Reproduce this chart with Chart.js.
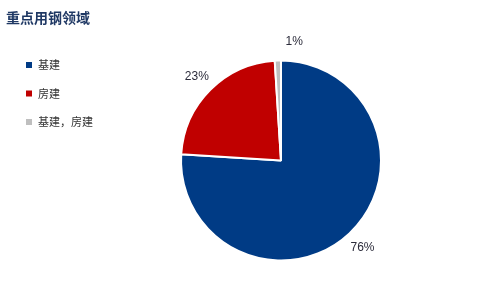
<!DOCTYPE html>
<html lang="zh-CN">
<head>
<meta charset="UTF-8">
<title>重点用钢领域</title>
<script src="https://cdn.jsdelivr.net/npm/chart.js"></script>
<style>
  html, body { margin: 0; padding: 0; background: #fff; }
  #wrap { width: 480px; height: 291px; position: relative; }
</style>
</head>
<body>
<div id="wrap"><canvas id="grafico"></canvas></div>
<script>
const titulo = '重点用钢领域';
const categorias = ['基建', '房建', '基建，房建'];
const valores = [76, 23, 1];
const cores = ['#003B85', '#C00000', '#BFBFBF'];

// desenha titulo, legenda e rotulos de porcentagem
const extras = {
  id: 'extras',
  afterDraw(chart) {
    const ctx = chart.ctx;
    ctx.save();
    ctx.fillStyle = '#1F3864';
    ctx.font = 'bold 14px "Noto Sans CJK SC"';
    ctx.textBaseline = 'middle';
    ctx.textAlign = 'left';
    ctx.fillText(titulo, 6, 18);

    ctx.font = '11px "Noto Sans CJK SC"';
    categorias.forEach((c, i) => {
      const y = 65 + i * 28.5;
      ctx.fillStyle = cores[i];
      ctx.fillRect(26, y - 3, 6, 6);
      ctx.fillStyle = '#333';
      ctx.fillText(c, 38, y);
    });

    const meta = chart.getDatasetMeta(0);
    const total = valores.reduce((a, b) => a + b, 0);
    const ajusteX = [0, 0, 17];
    ctx.font = '12px "Liberation Sans"';
    ctx.textAlign = 'center';
    meta.data.forEach((arc, i) => {
      const p = arc.getProps(['x', 'y', 'startAngle', 'endAngle', 'outerRadius'], true);
      const meio = (p.startAngle + p.endAngle) / 2;
      const r = p.outerRadius + 19;
      const x = p.x + Math.cos(meio) * r + ajusteX[i];
      const y = p.y + Math.sin(meio) * r;
      ctx.fillStyle = '#2b2b3a';
      ctx.fillText(Math.round(valores[i] / total * 100) + '%', x, y);
    });
    ctx.restore();
  }
};

new Chart(document.getElementById('grafico'), {
  type: 'pie',
  data: {
    labels: categorias,
    datasets: [{
      data: valores,
      backgroundColor: cores,
      borderColor: '#fff',
      borderWidth: 2
    }]
  },
  options: {
    responsive: true,
    maintainAspectRatio: false,
    animation: false,
    layout: { padding: { left: 180, right: 98, top: 59, bottom: 29 } },
    plugins: {
      legend: { display: false },
      tooltip: { enabled: false }
    }
  },
  plugins: [extras]
});
</script>
</body>
</html>
